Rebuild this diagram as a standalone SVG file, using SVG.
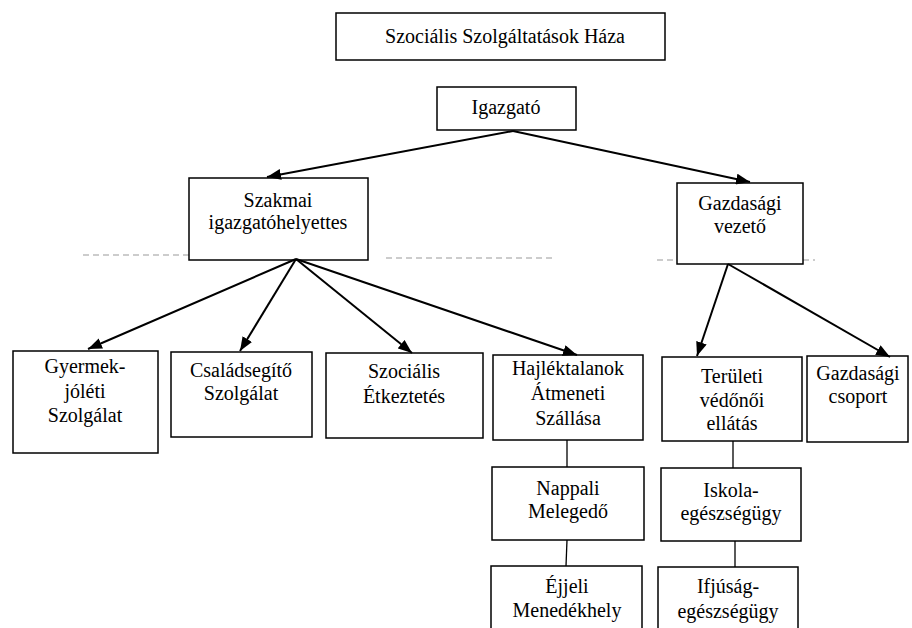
<svg xmlns="http://www.w3.org/2000/svg" width="912" height="628" viewBox="0 0 912 628">
<style>
rect{fill:#fff;stroke:#000;stroke-width:1.5}
text{font-size:20px;text-anchor:middle;fill:#000}
.c{stroke:#000;stroke-width:2;fill:none}
.t{stroke:#000;stroke-width:1.3;fill:none}
.d{stroke:#999;stroke-width:1;stroke-dasharray:6 4;fill:none}
</style>
<defs>
<marker id="ah" viewBox="0 0 14 11" refX="14" refY="5.5" markerWidth="14" markerHeight="11" markerUnits="userSpaceOnUse" orient="auto">
<path d="M0,0 L14,5.5 L0,11 z" fill="#000"/>
</marker>
</defs>
<rect x="0" y="0" width="912" height="628" style="stroke:none"/>
<g id="dashes">
<path class="d" d="M83,255 H189 M386,258 H555 M657,260 H677 M803,260 H815"/>
</g>
<g font-family="Liberation Serif, Times New Roman, serif">
<g id="n-title"><rect x="336" y="13" width="329" height="47"/><text x="505" y="43">Szociális Szolgáltatások Háza</text></g>
<g id="n-igazgato"><rect x="437" y="87" width="139" height="43"/><text x="506" y="114">Igazgató</text></g>
<g id="n-szakmai"><rect x="189" y="178" width="179" height="82"/><text x="278" y="207">Szakmai</text><text x="278" y="229">igazgatóhelyettes</text></g>
<g id="n-gazdvez"><rect x="677" y="183" width="126" height="81"/><text x="740" y="210">Gazdasági</text><text x="740" y="233">vezető</text></g>
<g id="n-gyermek"><rect x="13" y="351" width="145" height="102"/><text x="85" y="373">Gyermek-</text><text x="85" y="398">jóléti</text><text x="85" y="422">Szolgálat</text></g>
<g id="n-csalad"><rect x="171" y="352" width="141" height="85"/><text x="241" y="377">Családsegítő</text><text x="241" y="400">Szolgálat</text></g>
<g id="n-etkezt"><rect x="326" y="353" width="157" height="85"/><text x="404" y="378">Szociális</text><text x="404" y="403">Étkeztetés</text></g>
<g id="n-hajl"><rect x="493" y="355" width="150" height="85"/><text x="568" y="375">Hajléktalanok</text><text x="568" y="400">Átmeneti</text><text x="568" y="425">Szállása</text></g>
<g id="n-terul"><rect x="662" y="357" width="140" height="84"/><text x="732" y="383">Területi</text><text x="732" y="407">védőnői</text><text x="732" y="430">ellátás</text></g>
<g id="n-gcsop"><rect x="807" y="356" width="101" height="86"/><text x="858" y="380">Gazdasági</text><text x="858" y="403">csoport</text></g>
<g id="n-nappali"><rect x="492" y="467" width="152" height="73"/><text x="568" y="495">Nappali</text><text x="568" y="518">Melegedő</text></g>
<g id="n-ejjeli"><rect x="491" y="566" width="151" height="70"/><text x="567" y="593">Éjjeli</text><text x="567" y="617">Menedékhely</text></g>
<g id="n-iskola"><rect x="661" y="468" width="140" height="73"/><text x="731" y="497">Iskola-</text><text x="731" y="520">egészségügy</text></g>
<g id="n-ifjusag"><rect x="658" y="567" width="140" height="70"/><text x="728" y="593">Ifjúság-</text><text x="728" y="618">egészségügy</text></g>
</g>
<g id="connectors">
<line class="c" x1="513" y1="131" x2="267" y2="177" marker-end="url(#ah)"/>
<line class="c" x1="513" y1="131" x2="750" y2="182" marker-end="url(#ah)"/>
<line class="c" x1="296" y1="259" x2="88" y2="349" marker-end="url(#ah)"/>
<line class="c" x1="296" y1="259" x2="240" y2="351" marker-end="url(#ah)"/>
<line class="c" x1="296" y1="259" x2="412" y2="353" marker-end="url(#ah)"/>
<line class="c" x1="296" y1="259" x2="577" y2="355" marker-end="url(#ah)"/>
<line class="c" x1="728" y1="264" x2="697" y2="356" marker-end="url(#ah)"/>
<line class="c" x1="728" y1="264" x2="890" y2="357" marker-end="url(#ah)"/>
<line class="t" x1="567" y1="440" x2="567" y2="467"/>
<line class="t" x1="567" y1="540" x2="566" y2="566"/>
<line class="t" x1="733" y1="441" x2="733" y2="468"/>
<line class="t" x1="735" y1="541" x2="735" y2="567"/>
</g>
</svg>
